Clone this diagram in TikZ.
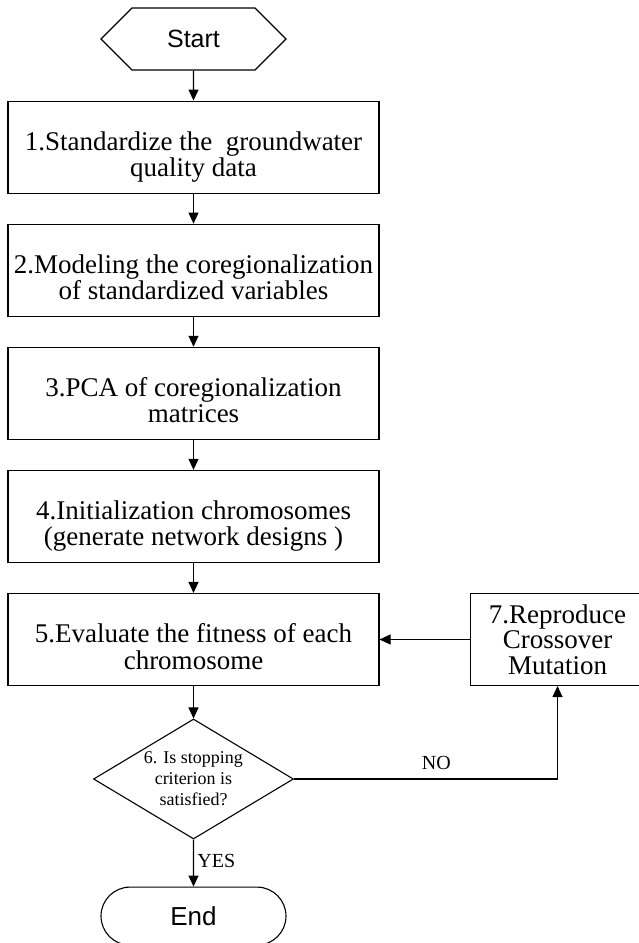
\documentclass[tikz,border=0pt]{standalone}
\usepackage{fontspec}
\setmainfont{Liberation Serif}
\setsansfont{Liberation Sans}
\usepackage{tikz}
\usetikzlibrary{shapes.geometric, shapes.symbols, shapes.misc, arrows.meta, positioning}

% struts that put the two lines of a block where the figure has them
\newcommand{\blocktop}{\rule{0pt}{38.5pt}}
\newcommand{\blockbot}{\rule[-6pt]{0pt}{6pt}}

\begin{document}
\begin{tikzpicture}[node distance=30pt, auto, >={Triangle[length=11pt,width=10pt]}, line width=1.1pt, font=\rmfamily]
    \tikzstyle{block} = [draw, rectangle, align=center, minimum width=371pt, minimum height=92pt, inner sep=0pt, font=\fontsize{27}{26.5}\selectfont]
    \tikzstyle{smallblock} = [draw, rectangle, align=center, minimum width=174pt, minimum height=92pt, inner sep=0pt, font=\fontsize{27}{25.5}\selectfont]
    \tikzstyle{startbox} = [draw, signal, signal to=west and east, signal pointer angle=90, minimum width=185pt, minimum height=62pt, inner sep=0pt, font=\sffamily\fontsize{25}{28}\selectfont]
    \tikzstyle{endbox} = [draw, rounded rectangle, minimum width=185pt, minimum height=58pt, inner sep=0pt, font=\sffamily\fontsize{26}{28}\selectfont]
    \tikzstyle{decision} = [draw, diamond, aspect=1.67, minimum width=200pt, minimum height=120pt, inner sep=0pt, align=center, font=\fontsize{18}{21}\selectfont]
    \tikzstyle{answer} = [font=\fontsize{20}{22}\selectfont]

    \useasboundingbox (0,0) rectangle (638pt,-943pt);

    \node [startbox] (start) at (193.5pt,-39pt) {Start};
    \node [block, below=of start] (standardize) {\blocktop 1.Standardize the\ \ groundwater\\quality data\blockbot};
    \node [block, below=of standardize] (modeling) {\blocktop 2.Modeling the coregionalization\\of standardized variables\blockbot};
    \node [block, below=of modeling] (pca) {\blocktop 3.PCA of coregionalization\\matrices\blockbot};
    \node [block, below=of pca] (init) {\blocktop 4.Initialization chromosomes\\ (generate network designs )\blockbot};
    \node [block, below=of init] (evaluate) {\blocktop 5.Evaluate the fitness of each\\chromosome\blockbot};
    \node [smallblock, right=90.4pt of evaluate] (reproduce) {7.Reproduce\\Crossover\\Mutation};
    \node [decision, below=32.4pt of evaluate] (stopping) {6. Is stopping\\criterion is\\satisfied?};
    \node [endbox, below=47pt of stopping] (end) {End};

    \draw [->] (start) -- (standardize);
    \draw [->] (standardize) -- (modeling);
    \draw [->] (modeling) -- (pca);
    \draw [->] (pca) -- (init);
    \draw [->] (init) -- (evaluate);
    \draw [->] (evaluate) -- (stopping);
    \draw [->] (stopping) -- (end) node[answer, right, pos=0.45] {YES};
    \draw [->] (stopping.east) -| (reproduce.south) node[answer, above=5pt, pos=0.27] {NO};
    \draw [->] (reproduce) -- (evaluate);
\end{tikzpicture}
\end{document}
